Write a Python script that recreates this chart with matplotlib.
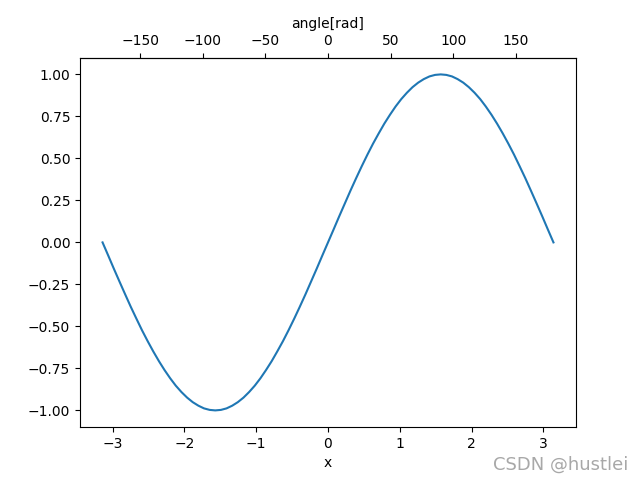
import numpy as np
import matplotlib
matplotlib.use("Agg")
import matplotlib.pyplot as plt

x_pos = [0.000, 0.079, 0.157, 0.236, 0.314, 0.393, 0.471, 0.550, 0.628, 0.707,
         0.785, 0.864, 0.942, 1.021, 1.100, 1.178, 1.257, 1.335, 1.414, 1.492,
         1.571, 1.649, 1.728, 1.806, 1.885, 1.963, 2.042, 2.121, 2.199, 2.278,
         2.356, 2.435, 2.513, 2.592, 2.670, 2.749, 2.827, 2.906, 2.985, 3.063, 3.142]
x_neg = [-3.142, -3.063, -2.985, -2.906, -2.827, -2.749, -2.670, -2.592, -2.513, -2.435,
         -2.356, -2.278, -2.199, -2.121, -2.042, -1.963, -1.885, -1.806, -1.728, -1.649,
         -1.571, -1.492, -1.414, -1.335, -1.257, -1.178, -1.100, -1.021, -0.942, -0.864,
         -0.785, -0.707, -0.628, -0.550, -0.471, -0.393, -0.314, -0.236, -0.157, -0.079]
y_pos = [0.000, 0.078, 0.156, 0.233, 0.309, 0.383, 0.454, 0.523, 0.588, 0.649,
         0.707, 0.760, 0.809, 0.853, 0.891, 0.924, 0.951, 0.972, 0.988, 0.997,
         1.000, 0.997, 0.988, 0.972, 0.951, 0.924, 0.891, 0.853, 0.809, 0.760,
         0.707, 0.649, 0.588, 0.523, 0.454, 0.383, 0.309, 0.233, 0.156, 0.078, 0.000]
y_neg = [0.000, -0.078, -0.156, -0.233, -0.309, -0.383, -0.454, -0.523, -0.588, -0.649,
         -0.707, -0.760, -0.809, -0.853, -0.891, -0.924, -0.951, -0.972, -0.988, -0.997,
         -1.000, -0.997, -0.988, -0.972, -0.951, -0.924, -0.891, -0.853, -0.809, -0.760,
         -0.707, -0.649, -0.588, -0.523, -0.454, -0.383, -0.309, -0.233, -0.156, -0.078]

x_vals = x_neg + x_pos
y_vals = y_neg + y_pos

fig, ax = plt.subplots(figsize=(6.4, 4.8), dpi=100)
ax.plot(x_vals, y_vals)
ax.set_xlabel("x")


def rad2deg(x):
    return x * 180 / np.pi


def deg2rad(x):
    return x * np.pi / 180


secax = ax.secondary_xaxis('top', functions=(rad2deg, deg2rad))
secax.set_xlabel('angle[rad]')

fig.text(0.770, 0.021, "CSDN @hustlei", fontsize=13, color="#a8a8a8")

fig.savefig("out.png", dpi=100)
